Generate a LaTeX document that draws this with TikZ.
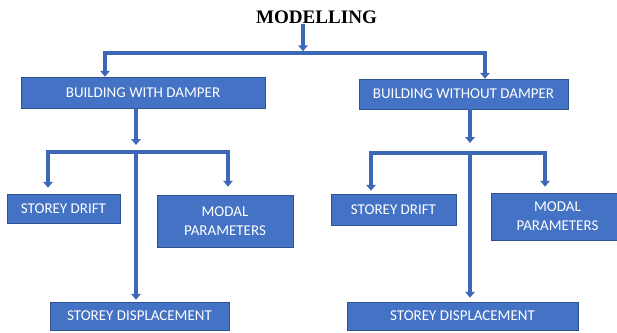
\documentclass[tikz,border=0pt]{standalone}
\usepackage{fontspec}
\setmainfont{Liberation Serif}
\newfontfamily\boxfont{Carlito}
\usetikzlibrary{arrows.meta}
\definecolor{boxblue}{HTML}{4472C4}
\definecolor{edgeblue}{HTML}{2F528F}
\definecolor{lineblue}{HTML}{3D68B8}
\begin{document}
\begin{tikzpicture}[x=0.03cm, y=-0.03cm,
    box/.style={rectangle, fill=boxblue, draw=edgeblue, line width=0.5pt, text=white,
        font=\boxfont\fontsize{12.8}{16.5}\selectfont, align=center, inner sep=0pt},
    link/.style={draw=lineblue, line width=3pt},
    arr/.style={link, -{Triangle[width=8pt,length=5pt]}},
    both/.style={link, {Triangle[width=8pt,length=5pt]}-{Triangle[width=8pt,length=5pt]}}]
    \useasboundingbox (0,0) rectangle (617,332);
    % title and first level
    \node[font=\bfseries\fontsize{16.3}{18}\selectfont, inner sep=0pt] (title) at (316.5,17) {MODELLING};
    \node[box, minimum width=7.32cm, minimum height=0.93cm] (bwd) at (143,92.5) {BUILDING WITH DAMPER};
    \node[box, minimum width=6.27cm, minimum height=0.9cm] (bwod) at (463.5,94) {BUILDING WITHOUT DAMPER};
    % with damper
    \node[box, minimum width=3.39cm, minimum height=0.87cm] (driftA) at (63.5,208.5) {STOREY DRIFT};
    \node[box, minimum width=4.08cm, minimum height=1.56cm] (modalA) at (225,221) {MODAL\\PARAMETERS};
    \node[box, minimum width=5.37cm, minimum height=0.84cm] (dispA) at (139.5,316) {STOREY DISPLACEMENT};
    % without damper
    \node[box, minimum width=3.75cm, minimum height=0.93cm] (driftB) at (393.5,209.5) {STOREY DRIFT};
    \node[box, minimum width=3.99cm, minimum height=1.41cm] (modalB) at (557.5,216.5) {MODAL\\PARAMETERS};
    \node[box, minimum width=6.93cm, minimum height=0.84cm] (dispB) at (462.5,316) {STOREY DISPLACEMENT};
    % junctions
    \coordinate (tl) at (105,53);
    \coordinate (tm) at (303,53);
    \coordinate (tr) at (485,53);
    \coordinate (jA) at (136,152);
    \coordinate (jAl) at (48,152);
    \coordinate (jAr) at (228,152);
    \coordinate (jB) at (470,153);
    \coordinate (jBl) at (371,153);
    \coordinate (jBr) at (545,153);
    % connectors
    \draw[arr, shorten >=1.5pt] (title.south -| tm) -- (tm);
    \draw[both] (tl |- bwd.north) -- (tl) -- (tr) -- (tr |- bwod.north);
    \draw[arr, shorten >=0.21cm] (bwd.south -| jA) -- (jA);
    \draw[both, shorten <=0.18cm, shorten >=0.24cm] (driftA.north -| jAl) -- (jAl) -- (jAr) -- (jAr |- modalA.north);
    \draw[arr, shorten >=0.06cm] (jA) -- (jA |- dispA.north);
    \draw[arr, shorten >=0.3cm] (bwod.south -| jB) -- (jB);
    \draw[both, shorten <=0.09cm, shorten >=0.18cm] (driftB.north -| jBl) -- (jBl) -- (jBr) -- (jBr |- modalB.north);
    \draw[arr, shorten >=0.12cm] (jB) -- (jB |- dispB.north);
\end{tikzpicture}
\end{document}
